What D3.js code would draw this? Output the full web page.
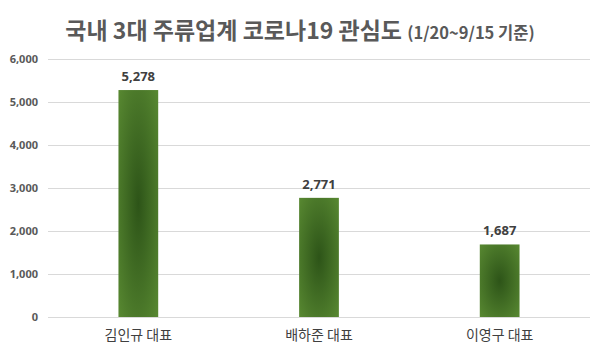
<!DOCTYPE html>
<html>
<head>
<meta charset="utf-8">
<script src="https://cdn.jsdelivr.net/npm/d3@7"></script>
<style>
  body { margin: 0; background: #fff; }
  text { font-family: "Noto Sans CJK KR", "Noto Sans", sans-serif; }
</style>
</head>
<body>
<div id="chart"></div>
<script>
const width = 600;
const height = 355;

const categories = ["김인규 대표", "배하준 대표", "이영구 대표"];
const values = [5278, 2771, 1687];
const yTicks = [0, 1000, 2000, 3000, 4000, 5000, 6000];

const margin = { top: 59, right: 10, bottom: 38, left: 48 };

const svg = d3
  .select("#chart")
  .append("svg")
  .attr("width", width)
  .attr("height", height);

// gradient like the excel fill
const grad = svg
  .append("defs")
  .append("radialGradient")
  .attr("id", "barFill")
  .attr("cx", "50%")
  .attr("cy", "50%")
  .attr("r", "75%");
grad.append("stop").attr("offset", "0%").attr("stop-color", "#2d5418");
grad.append("stop").attr("offset", "100%").attr("stop-color", "#5b8c33");

const xScale = d3
  .scaleBand()
  .domain(categories)
  .range([margin.left, width - margin.right])
  .paddingInner(0.78)
  .paddingOuter(0.39);

const yScale = d3
  .scaleLinear()
  .domain([0, 6000])
  .range([height - margin.bottom, margin.top]);

// title
const title = svg
  .append("text")
  .attr("x", width / 2)
  .attr("y", 39)
  .attr("text-anchor", "middle")
  .attr("fill", "#595959")
  .attr("font-weight", "bold");
title.append("tspan").attr("font-size", 23).text("국내 3대 주류업계 코로나19 관심도 ");
title.append("tspan").attr("font-size", 16.5).text("(1/20~9/15 기준)");

// gridlines
svg
  .append("g")
  .selectAll("line")
  .data(yTicks)
  .enter()
  .append("line")
  .attr("x1", margin.left)
  .attr("x2", width - margin.right)
  .attr("y1", (d) => Math.round(yScale(d)) + 0.5)
  .attr("y2", (d) => Math.round(yScale(d)) + 0.5)
  .attr("stroke", "#d9d9d9")
  .attr("stroke-width", 1);

// y axis
const yAxis = d3
  .axisLeft(yScale)
  .tickValues(yTicks)
  .tickSize(0)
  .tickPadding(10)
  .tickFormat(d3.format(","));

svg
  .append("g")
  .attr("transform", `translate(${margin.left}, 0)`)
  .call(yAxis)
  .call((g) => g.select(".domain").remove())
  .call((g) =>
    g
      .selectAll("text")
      .attr("fill", "#595959")
      .attr("font-size", 11)
      .attr("font-weight", "bold")
      .style("font-family", "'Noto Sans', sans-serif")
  );

// x axis
const xAxis = d3.axisBottom(xScale).tickSize(0).tickPadding(13);

svg
  .append("g")
  .attr("transform", `translate(0, ${height - margin.bottom})`)
  .call(xAxis)
  .call((g) => g.select(".domain").remove())
  .call((g) =>
    g
      .selectAll("text")
      .attr("fill", "#404040")
      .attr("font-size", 14)
  );

// bars
svg
  .selectAll("rect.bar")
  .data(values)
  .enter()
  .append("rect")
  .attr("class", "bar")
  .attr("x", (d, i) => xScale(categories[i]))
  .attr("y", (d) => yScale(d))
  .attr("width", xScale.bandwidth())
  .attr("height", (d) => yScale(0) - yScale(d))
  .attr("fill", "url(#barFill)");

// value labels
svg
  .selectAll("text.value")
  .data(values)
  .enter()
  .append("text")
  .attr("class", "value")
  .attr("x", (d, i) => xScale(categories[i]) + xScale.bandwidth() / 2)
  .attr("y", (d) => yScale(d) - 9)
  .attr("text-anchor", "middle")
  .attr("fill", "#404040")
  .attr("font-size", 13)
  .attr("font-weight", "bold")
  .style("font-family", "'Noto Sans', sans-serif")
  .text((d) => d3.format(",")(d));
</script>
</body>
</html>
